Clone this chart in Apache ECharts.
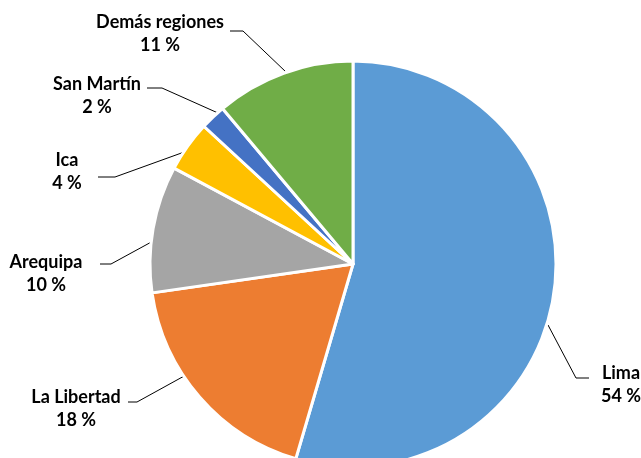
<!DOCTYPE html>
<html>
<head>
<meta charset="utf-8">
<script src="https://cdn.jsdelivr.net/npm/echarts@6/dist/echarts.min.js"></script>
<style>html,body{margin:0;padding:0;background:#fff}#c{width:641px;height:458px}</style>
</head>
<body>
<div id="c"></div>
<script>
var regions = ['Lima', 'La Libertad', 'Arequipa', 'Ica', 'San Martín', 'Demás regiones'];
var shares = [54, 18, 10, 4, 2, 11];
var colors = ['#5B9BD5', '#ED7D31', '#A5A5A5', '#FFC000', '#4472C4', '#70AD47'];

// label placement (layout only): label block centre and leader-line points
var labelPlace = [
  {x: 621, y: 385, line: [[548, 325], [576, 378], [589, 378]]},
  {x: 76,  y: 409, line: [[186, 375], [137, 402], [128, 402]]},
  {x: 46,  y: 274, line: [[155, 240], [111, 264], [100, 264]]},
  {x: 67,  y: 172, line: [[187, 151], [115, 177], [98, 177]]},
  {x: 97,  y: 96,  line: [[218, 113], [162, 88], [147, 88]]},
  {x: 160, y: 34,  line: [[286, 72], [243, 31], [230, 31]]}
];

var chart = echarts.init(document.getElementById('c'), null, {renderer: 'canvas'});
var data = regions.map(function (r, i) {
  return {name: r, value: shares[i], itemStyle: {color: colors[i]}};
});
chart.setOption({
  animation: false,
  series: [{
    type: 'pie',
    center: [353, 264],
    radius: 203,
    startAngle: 90,
    clockwise: true,
    avoidLabelOverlap: false,
    data: data,
    itemStyle: {borderColor: '#fff', borderWidth: 3},
    label: {
      show: true,
      position: 'outside',
      overflow: 'none',
      formatter: '{a|{b}}\n{a|{c} %}',
      color: '#000',
      fontFamily: 'Lato',
      fontWeight: 'bold',
      fontSize: 18,
      lineHeight: 23,
      rich: {a: {align: 'center', fontFamily: 'Lato', fontWeight: 'bold', fontSize: 18, lineHeight: 23, color: '#000'}}
    },
    labelLine: {show: true, length: 30, length2: 12, lineStyle: {color: '#000', width: 1}},
    labelLayout: function (p) {
      var lp = labelPlace[p.dataIndex];
      return {x: lp.x, y: lp.y, align: 'center', verticalAlign: 'middle', labelLinePoints: lp.line};
    }
  }]
});
</script>
</body>
</html>
